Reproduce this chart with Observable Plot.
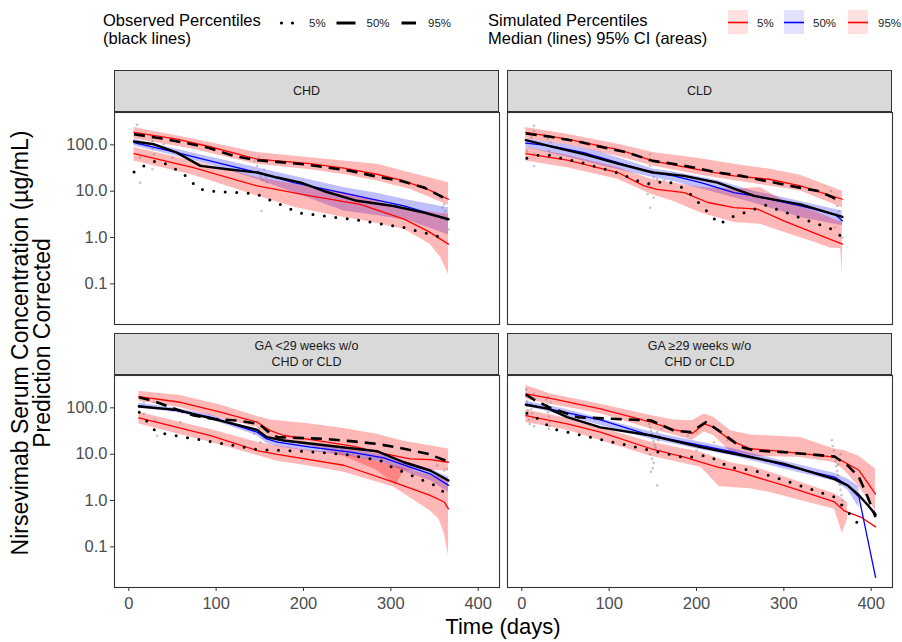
<!DOCTYPE html>
<html>
<head>
<meta charset="utf-8">
<script src="https://cdn.jsdelivr.net/npm/d3@7"></script>
<script src="https://cdn.jsdelivr.net/npm/@observablehq/plot@0.6"></script>
<style>
  html, body { margin: 0; padding: 0; background: #fff; }
  body { font-family: "Liberation Sans", Arial, sans-serif; }
  #root { position: relative; width: 902px; height: 642px; overflow: hidden; background: #fff; }
  .abs { position: absolute; }
  .strip { position: absolute; background: #d9d9d9; border: 1px solid #333; box-sizing: border-box;
           display: flex; align-items: center; justify-content: center; text-align: center;
           font-size: 12.5px; line-height: 16px; color: #1a1a1a; white-space: pre; }
  .ttl { position: absolute; color: #000; font-size: 16.5px; line-height: 18px; white-space: nowrap; }
</style>
</head>
<body>
<div id="root"></div>
<script>
// ---------------- data (days, µg/mL) ----------------
const panelNames = ["CHD", "CLD", "GA <29 weeks w/o\nCHD or CLD", "GA \u226529 weeks w/o\nCHD or CLD"];
const xTicks = [0, 100, 200, 300, 400];
const xTickLabels = ["0", "100", "200", "300", "400"];
const yTicks = [0.1, 1, 10, 100];
const yTickLabels = ["0.1", "1.0", "10.0", "100.0"];
const legendPct = ["5%", "50%", "95%"];

// CHD
const chd_sim95 = [[6,185],[55,133],[93,91],[147,49],[170,45],[208,39.5],[246,31.3],[284,23.2],[315,16.7],[342,11],[366,6.7]];
const chd_sim50 = [[6,112],[55,68],[93,45],[147,25.3],[189,15.3],[261,7.9],[315,4.8],[366,2.5]];
const chd_sim5  = [[6,65],[74,32.4],[147,13],[208,7.9],[265,5.2],[315,2.5],[342,1.39],[366,0.72]];
const chd_band95 = [[6,133,237],[74,80,133],[147,38,68],[208,29,53],[246,23,45],[284,16.5,38],[322,11,25],[366,5,15.3]];
const chd_band50 = [[6,95,130],[55,57,80],[93,37,55],[147,18,32],[189,9.3,21],[246,3.75,12],[284,3.0,9],[322,2.28,6.3],[366,1.14,4.4]];
const chd_band5  = [[6,45,87.5],[74,22,45],[147,7.9,19.7],[192,4.4,14],[246,2.7,9.5],[265,2.4,7.9],[315,1.51,4.1],[345,0.72,3.6],[357,0.37,3.3],[366,0.16,3.2]];
const chd_obs95 = [[6,170],[36,139],[63,112],[90,87.5],[120,57.8],[147,46.6],[170,43],[200,38],[227,32.4],[254,27.4],[280,21.4],[311,16.7],[338,12],[364,6.7]];
const chd_obs50 = [[6,118],[29,103],[55,68],[82,35.2],[113,29.8],[147,25.3],[170,19.7],[197,15.3],[223,10.1],[261,6.2],[303,4.8],[338,3.45],[366,2.48]];
const chd_obs5  = [[6,26],[17,35],[31,45],[44,38],[57,27.4],[69,19],[78,11.8],[90,10.1],[145,8.9],[195,3.4],[263,2.36],[315,1.64],[359,1.0]];
const chd_pts = [[9.5,270],[11,157],[11,103],[13,53],[13,15.3],[25,157],[27,122],[27,81],[29,63],[27,30],[40,103],[50,53],
  [144,45],[147,35],[149,27],[151,21],[153,17],[155,29],[157,20],[158,15.5],[152,3.75],[149,53],
  [357,7.3],[361,5.2],[362,3.75],[364,2.3],[366,1.5],[359,4.4]];

// CLD
const cld_sim95 = [[4.6,185],[52,133],[113,77],[150,45],[205,28.4],[243,21.4],[283,18.1],[319,13],[367,6.7]];
const cld_sim50 = [[4.6,109],[33,95],[71,68],[110,41.5],[150,25.3],[174,21.4],[205,15.3],[243,9.3],[266,7.9],[319,4.8],[358,3.2],[367,2.3]];
const cld_sim5  = [[4.6,65],[52,46.6],[110,25.3],[140,13],[155,11],[186,9.3],[213,5.7],[243,4.4],[270,4.1],[300,2.28],[338,1.18],[367,0.72]];
const cld_band95 = [[4.6,133,237],[52,100,170],[113,55,100],[150,35,68],[205,22,50],[243,16.7,38],[283,13,30],[319,10.1,22],[367,4.4,10]];
const cld_band50 = [[4.6,87.5,133],[52,55,100],[90,36,70],[150,19.7,30],[174,16,26],[224,9,17],[266,5.5,10],[319,2.7,6],[367,1.8,3.75]];
const cld_band5  = [[4.6,45,87.5],[52,32,60],[110,18,32.4],[148,8.6,18],[174,6,15],[205,3.4,12],[243,2.1,11],[273,1.94,12],[300,1.3,6.2],[338,0.75,3.5],[354,0.59,2.6],[365,0.58,2.2],[367,0.16,2.1]];
const cld_obs95 = [[4.6,176],[33,149],[64,118],[94,87.5],[121,68.2],[150,45.1],[171,39.5],[197,32.4],[224,25.3],[251,21.4],[279,16.7],[308,13],[339,10.1],[365,6.2]];
const cld_obs50 = [[4.6,126],[33,93],[71,63],[110,39.5],[150,25.3],[186,21.4],[224,15.3],[266,7.9],[319,5.2],[367,2.8]];
const cld_obs5  = [[5.8,51.5],[20,60.8],[31,59.8],[71,40.2],[111,24.4],[138,15.3],[150,14.1],[163,16.7],[174,14.6],[188,10.8],[197,7.3],[226,1.94],[239,2.7],[279,5.0],[358,1.44],[367,1.0]];
const cld_pts = [[14,257],[14,200],[11,144],[14,63],[14,35],[30,133],[31,95],[31,74],[30,53],[33,112],[6,74],
  [147,63],[146,45],[147,35],[150,27],[151,20],[146,15.3],[147,12],[144,8.6],[151,7.3],[147,4.4],[155,18],[163,17],
  [354,10.1],[358,6.7],[361,4.8],[363,3.75],[365,2.3],[358,1.64],[367,1.0],[361,3.2]];

// GA <29 weeks
const ga1_sim95 = [[11.5,175],[59,132],[105,80.5],[147,49],[162,32.4],[177.5,25.3],[216,19.7],[258,14.7],[284,11.1],[322,7.9],[345,7.6],[366,6.7]];
const ga1_sim50 = [[11.5,112],[55,87.5],[93.5,62.8],[147,29.9],[158,21.4],[170,18.2],[208,14.2],[254,11.1],[292,8.3],[322,5.25],[345,3.77],[366,2.12]];
const ga1_sim5  = [[11.5,60.8],[36,46.6],[93.5,25.3],[147,12],[170,9.9],[246,5.77],[303,2.49],[345,1.29],[361,0.93],[366,0.66]];
const ga1_band95 = [[11.5,140,228],[59,100,185],[105,60,115],[147,38,65],[162,21,55],[208,15,45],[246,9,36],[284,4.5,27],[306,2.1,21],[315,4.5,19],[366,4.4,13]];
const ga1_band50 = [[11.5,100,125],[55,78,98],[93.5,56,70],[147,25,33],[158,17,25],[170,14.5,21],[208,11.5,16.7],[254,9,12.5],[292,6.5,9.5],[322,3.8,6.4],[345,2.7,4.8],[366,1.5,3.2]];
const ga1_band5  = [[11.5,45,80.5],[36,34,62],[93.5,18,34],[147,9.4,18.2],[170,7,15],[208,5.5,12],[246,4.1,10.2],[303,1.95,5.7],[345,0.6,3.5],[355,0.4,3.2],[361,0.2,3.0],[366,0.066,2.7]];
const ga1_obs95 = [[11.5,169],[28.7,139],[47.7,103],[74.4,68.2],[97.3,57.8],[124,53.2],[149,45.1],[158,32.4],[170,23.3],[193,22.5],[223,21.4],[254,19.1],[284,16.7],[315,13.1],[342,10.2],[364.5,7.1]];
const ga1_obs50 = [[11.5,107],[55,90.3],[147,33.5],[158,23.3],[177.5,19.7],[284,11.6],[315,6.7],[345,4.45],[366,2.71]];
const ga1_obs5  = [[12,80.5],[30,32.4],[41,27.5],[150,12.4],[193,11.8],[248,9.9],[288,7.3],[301,5.25],[355,1.95],[364,1.29]];
const ga1_pts = [[13.7,169],[17.2,132],[28.7,132],[30.6,53],[32.5,25],[17.2,74],[59,49],
  [147,49],[149,35],[151,18],[155,23],[158,30],[143.6,27.5],
  [353,5.7],[361,4.45],[364,4.8]];

// GA >=29 weeks
const ga2_sim95 = [[4.6,200],[33,160],[90,95],[148,49],[174,34],[195,28],[209,45],[220,38],[239,19.7],[262,13.1],[300,11.4],[358,8.6],[369,6.8],[386,4.5],[405,1.38]];
const ga2_sim50 = [[4.6,122],[48.5,80.5],[90,55],[148,25.3],[205,15.4],[243,11.1],[300,5.75],[358,3.2],[373,2.12],[386,1.19],[405,0.022]];
const ga2_sim5  = [[4.6,68],[52,45],[90,29.9],[148,13.1],[186,8.6],[224,5.25],[243,4.45],[300,2.12],[358,0.93],[369,0.6],[388,0.44],[405,0.27]];
const ga2_band95 = [[4.6,156,303],[33,120,200],[90,75,120],[148,35,68],[174,26,55],[195,20,53],[209,30,74],[220,25,62],[239,11.1,32],[262,9,26],[319,8.5,23],[358,6.5,13],[369,4.5,12],[386,2.0,9],[405,0.6,4.8]];
const ga2_band50 = [[4.6,108,138],[48.5,68,95],[148,21,30],[205,12.5,18],[243,9,13],[300,4.8,7],[358,2.6,3.9],[373,1.7,2.9],[386,0.7,2.0]];
const ga2_band5  = [[4.6,48,90],[52,33,60],[148,9,18],[205,5.25,11],[226,2.0,8],[239,1.9,6.5],[262,1.8,5.5],[283,1.5,4.2],[358,0.65,1.4],[367,0.195,1.1],[373,0.4,0.9]];
const ga2_obs95 = [[4.6,194],[14,150],[31,103],[64,62.8],[132,55],[148,53.2],[174,32.4],[193,29.9],[211,49],[228,29.9],[251,14.2],[266,12],[300,11.1],[358,8.9],[373,5.75],[386,3.2],[396,1.19],[405,0.44]];
const ga2_obs50 = [[4.6,116],[31,95],[52,62.8],[90,38],[148,25.3],[205,14.2],[243,10.2],[300,6.2],[358,2.9],[373,2.12],[386,1.3],[396,0.8],[405,0.5]];
const ga2_obs5  = [[5.8,76.5],[19,57.8],[35,35.2],[148,12],[188,8.35],[199,9.0],[211,9.4],[225,7.3],[237,5.25],[266,4.45],[358,1.19],[375,0.52],[385,0.315]];
const ga2_pts = [[5,250],[5,180],[6,140],[6,110],[7,90],[7,70],[8,55],[9,45],[10,160],[10,120],[11,95],[12,75],[13,60],[14,200],[14,40],
  [28,150],[29,120],[30,100],[30,80],[31,65],[32,50],[32,40],[33,130],[30,170],[31,35],
  [145,55],[146,45],[147,38],[148,32],[149,27],[150,22],[151,19],[152,16],[153,14],[154,12],[147,10],[149,8],[151,6.5],[150,5],[148,4.2],[155,30],[157,25],[156,20],[158,12],[155,2.12],[160,35],
  [190,25],[200,30],[212,15],[220,18],[235,20],[200,12],
  [355,20],[356,15],[357,12],[358,9],[359,7],[360,5.5],[361,4.3],[362,3.5],[363,2.8],[364,2.2],[365,1.7],[366,1.3],[367,1.0],[368,0.8],[357,3],[362,6],[365,10]];

// ---------------- layout ----------------
const RED = "#ff0000", BLUE = "#0000ff";
const X = d => d[0], Y = d => d[1];
const root = document.getElementById("root");
const PW = 385, PH = 212;

function panel(name, col, row, s) {
  const left = col === 0, bottom = row === 1;
  const mL = left ? 60 : 1, mB = bottom ? 40 : 1, mT = 1, mR = 1;
  const x0 = left ? 114 : 507, y0 = bottom ? 374.5 : 111.5;
  const marks = [
    Plot.areaY(s.b95, {x: X, y1: d => d[1], y2: d => d[2], fill: RED, fillOpacity: 0.28}),
    Plot.areaY(s.b50, {x: X, y1: d => d[1], y2: d => d[2], fill: BLUE, fillOpacity: 0.25}),
    Plot.areaY(s.b5, {x: X, y1: d => d[1], y2: d => d[2], fill: RED, fillOpacity: 0.28}),
    Plot.dot(s.pts, {x: X, y: Y, r: 1.3, fill: "#808080", fillOpacity: 0.45, stroke: null}),
    Plot.line(s.s95, {x: X, y: Y, stroke: RED, strokeWidth: 1.3}),
    Plot.line(s.s5, {x: X, y: Y, stroke: RED, strokeWidth: 1.3}),
    Plot.line(s.s50, {x: X, y: Y, stroke: BLUE, strokeWidth: 1.3}),
    Plot.line(s.o5, {x: X, y: Y, stroke: "#000", strokeWidth: 3, strokeDasharray: "0,11.5", strokeLinecap: "round"}),
    Plot.line(s.o95, {x: X, y: Y, stroke: "#000", strokeWidth: 2.6, strokeDasharray: "11,7", strokeLinecap: "butt"}),
    Plot.line(s.o50, {x: X, y: Y, stroke: "#000", strokeWidth: 2.4}),
    Plot.frame({stroke: "#333", strokeWidth: 1.1})
  ];
  if (left) marks.push(Plot.axisY({ticks: yTicks, tickFormat: d => yTickLabels[yTicks.indexOf(d)], tickSize: 4, tickPadding: 3,
    stroke: "#333", fill: "#4d4d4d", fontSize: 16.5, label: null}));
  if (bottom) marks.push(Plot.axisX({ticks: xTicks, tickFormat: d => xTickLabels[xTicks.indexOf(d)], tickSize: 4, tickPadding: 6,
    stroke: "#333", fill: "#4d4d4d", fontSize: 16.5, label: null}));
  const svg = Plot.plot({
    width: PW + mL + mR, height: PH + mT + mB,
    marginLeft: mL, marginRight: mR, marginTop: mT, marginBottom: mB,
    x: {domain: [-16.37, 424.4], ...(bottom ? {} : {axis: null})},
    y: {type: "log", domain: [0.01328, 499], ...(left ? {} : {axis: null})},
    style: {background: "transparent", overflow: "visible", fontFamily: "'Liberation Sans', Arial, sans-serif", fontSize: "16.5px"},
    marks
  });
  svg.style.position = "absolute";
  svg.style.left = (x0 - mL) + "px";
  svg.style.top = (y0 - mT) + "px";
  root.appendChild(svg);
  const strip = document.createElement("div");
  strip.className = "strip";
  strip.style.left = x0 + "px";
  strip.style.top = (bottom ? 333 : 70) + "px";
  strip.style.width = PW + "px";
  strip.style.height = "42px";
  strip.textContent = name;
  root.appendChild(strip);
}

panel(panelNames[0], 0, 0, {b95: chd_band95, b50: chd_band50, b5: chd_band5, pts: chd_pts, s95: chd_sim95, s50: chd_sim50, s5: chd_sim5, o5: chd_obs5, o50: chd_obs50, o95: chd_obs95});
panel(panelNames[1], 1, 0, {b95: cld_band95, b50: cld_band50, b5: cld_band5, pts: cld_pts, s95: cld_sim95, s50: cld_sim50, s5: cld_sim5, o5: cld_obs5, o50: cld_obs50, o95: cld_obs95});
panel(panelNames[2], 0, 1, {b95: ga1_band95, b50: ga1_band50, b5: ga1_band5, pts: ga1_pts, s95: ga1_sim95, s50: ga1_sim50, s5: ga1_sim5, o5: ga1_obs5, o50: ga1_obs50, o95: ga1_obs95});
panel(panelNames[3], 1, 1, {b95: ga2_band95, b50: ga2_band50, b5: ga2_band5, pts: ga2_pts, s95: ga2_sim95, s50: ga2_sim50, s5: ga2_sim5, o5: ga2_obs5, o50: ga2_obs50, o95: ga2_obs95});

// axis titles
const xt = document.createElement("div");
xt.className = "abs";
xt.style.cssText = "left:403px;top:615px;width:200px;text-align:center;font-size:22px;line-height:24px;color:#000;";
xt.textContent = "Time (days)";
root.appendChild(xt);

const yt = document.createElement("div");
yt.className = "abs";
yt.style.cssText = "left:-219px;top:321px;width:500px;height:44px;text-align:center;font-size:23px;line-height:22px;color:#000;transform:rotate(-90deg);transform-origin:250px 22px;";
yt.innerHTML = "Nirsevimab Serum Concentration (\u00b5g/mL)<br>Prediction Corrected";
root.appendChild(yt);

// legend titles
const l1 = document.createElement("div");
l1.className = "ttl"; l1.style.left = "103px"; l1.style.top = "10.5px";
l1.innerHTML = "Observed Percentiles<br>(black lines)";
root.appendChild(l1);
const l2 = document.createElement("div");
l2.className = "ttl"; l2.style.left = "488px"; l2.style.top = "10.5px";
l2.innerHTML = "Simulated Percentiles<br>Median (lines) 95% CI (areas)";
root.appendChild(l2);

// legend keys
const ns = "http://www.w3.org/2000/svg";
const lg = document.createElementNS(ns, "svg");
lg.setAttribute("width", 902); lg.setAttribute("height", 50);
lg.style.cssText = "position:absolute;left:0;top:0;overflow:visible";
function el(tag, attrs, text) {
  const e = document.createElementNS(ns, tag);
  for (const k in attrs) e.setAttribute(k, attrs[k]);
  if (text != null) e.textContent = text;
  lg.appendChild(e);
  return e;
}
const labStyle = {"font-size": 11.5, "font-family": "'Liberation Sans', Arial, sans-serif", fill: "#1a1a1a"};
el("line", {x1: 281.5, x2: 297, y1: 23, y2: 23, stroke: "#000", "stroke-width": 3.2, "stroke-dasharray": "0,11", "stroke-linecap": "round"});
el("text", {x: 309, y: 27, ...labStyle}, legendPct[0]);
el("line", {x1: 336.5, x2: 355.5, y1: 23, y2: 23, stroke: "#000", "stroke-width": 3});
el("text", {x: 366.5, y: 27, ...labStyle}, legendPct[1]);
el("line", {x1: 401.5, x2: 416, y1: 23, y2: 23, stroke: "#000", "stroke-width": 3, "stroke-dasharray": "14.5,6"});
el("text", {x: 428, y: 27, ...labStyle}, legendPct[2]);
const keyX = [728, 784, 848], keyLab = [757, 813, 878], keyFill = ["#ffe0e0", "#e2e2ff", "#ffe0e0"], keyLine = [RED, BLUE, RED];
for (let i = 0; i < 3; i++) {
  el("rect", {x: keyX[i], y: 10, width: 20, height: 24, fill: keyFill[i]});
  el("line", {x1: keyX[i], x2: keyX[i] + 20, y1: 22.5, y2: 22.5, stroke: keyLine[i], "stroke-width": 1.6});
  el("text", {x: keyLab[i], y: 27, ...labStyle}, legendPct[i]);
}
root.appendChild(lg);
</script>
</body>
</html>
